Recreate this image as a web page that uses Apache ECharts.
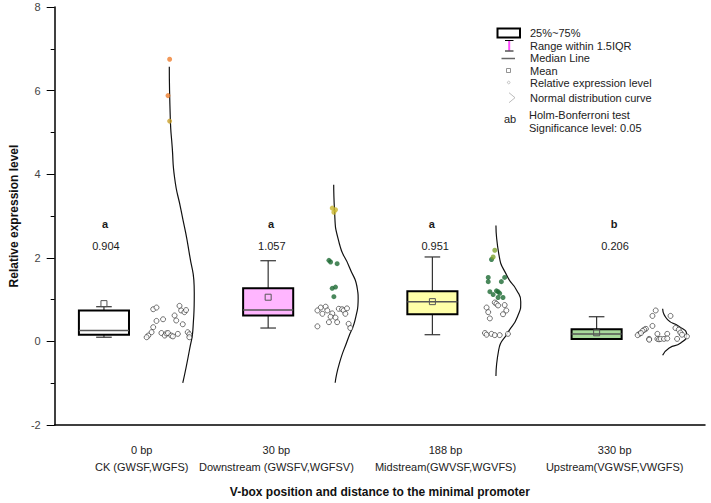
<!DOCTYPE html>
<html>
<head>
<meta charset="utf-8">
<script src="https://cdn.jsdelivr.net/npm/echarts@6/dist/echarts.min.js"></script>
<style>
  html, body { margin: 0; padding: 0; background: #fff; }
  #chart { width: 711px; height: 503px; }
</style>
</head>
<body>
<div id="chart"></div>
<script>
// groups (box centres on the x axis) and their labels
const groupPos = [1, 2, 3, 4]
const distLabels = ['0 bp', '30 bp', '188 bp', '330 bp']
const groupNames = ['CK (GWSF,WGFS)', 'Downstream (GWSFV,WGFSV)', 'Midstream(GWVSF,WGVFS)', 'Upstream(VGWSF,VWGFS)']
const labelPos = [1.23, 2.05, 3.08, 4.11]

// box statistics
const boxMin = [0.10, 0.32, 0.16, 0.05]
const boxQ1 = [0.16, 0.62, 0.65, 0.06]
const boxMedian = [0.26, 0.75, 0.95, 0.18]
const boxQ3 = [0.74, 1.27, 1.20, 0.29]
const boxMax = [0.83, 1.93, 2.02, 0.59]
const means = [0.904, 1.057, 0.951, 0.206]

// Holm-Bonferroni letters
const letters = ['a', 'a', 'a', 'b']
const letterPos = [1.01, 2.02, 3.0, 4.11]

// raw points: [offset from box centre, value]
const ckHollow = [[0.30, 0.77], [0.32, 0.81], [0.46, 0.85], [0.47, 0.74], [0.49, 0.70], [0.50, 0.75], [0.43, 0.62],
  [0.32, 0.49], [0.36, 0.53], [0.44, 0.50], [0.48, 0.41], [0.30, 0.34], [0.29, 0.22], [0.27, 0.14], [0.26, 0.10],
  [0.35, 0.20], [0.37, 0.14], [0.38, 0.19], [0.39, 0.20], [0.41, 0.14], [0.42, 0.12], [0.45, 0.18], [0.51, 0.22],
  [0.52, 0.17], [0.52, 0.10]]
const ckOrange = [[0.40, 6.75], [0.39, 5.88]]
const ckOlive = [[0.40, 5.27]]

const downHollow = [[0.32, 0.81], [0.35, 0.83], [0.30, 0.74], [0.33, 0.66], [0.36, 0.74], [0.39, 0.67], [0.38, 0.59],
  [0.41, 0.57], [0.43, 0.78], [0.45, 0.77], [0.46, 0.74], [0.48, 0.79], [0.47, 0.66], [0.37, 0.46], [0.42, 0.46],
  [0.30, 0.36], [0.49, 0.42], [0.50, 0.32]]
const downGreen = [[0.37, 1.94], [0.38, 1.90], [0.42, 1.86], [0.39, 1.27], [0.41, 1.30], [0.40, 1.07]]
const downYellow = [[0.39, 3.19], [0.41, 3.15], [0.40, 3.09]]

const midHollow = [[0.38, 0.93], [0.39, 0.90], [0.40, 0.86], [0.44, 0.87], [0.33, 0.81], [0.34, 0.70], [0.45, 0.74],
  [0.43, 0.65], [0.35, 0.55], [0.32, 0.20], [0.33, 0.16], [0.36, 0.18], [0.38, 0.15], [0.41, 0.15], [0.46, 0.18]]
const midGreen = [[0.36, 1.96], [0.34, 1.53], [0.44, 1.53], [0.34, 1.43], [0.42, 1.43], [0.39, 1.21], [0.40, 1.19],
  [0.35, 1.19], [0.37, 1.12], [0.41, 1.15], [0.40, 1.05], [0.43, 1.05]]
const midLime = [[0.38, 2.18], [0.37, 2.02]]

const upHollow = [[0.36, 0.74], [0.34, 0.61], [0.45, 0.61], [0.34, 0.37], [0.30, 0.30], [0.29, 0.28], [0.28, 0.25],
  [0.26, 0.18], [0.25, 0.15], [0.27, 0.20], [0.37, 0.18], [0.43, 0.18], [0.48, 0.32], [0.50, 0.28], [0.51, 0.21],
  [0.52, 0.16], [0.55, 0.12], [0.32, 0.06], [0.32, 0.04], [0.37, 0.06], [0.38, 0.05], [0.39, 0.06], [0.41, 0.06],
  [0.43, 0.07], [0.49, 0.06]]

// normal distribution curves: [offset, value]
const ckCurve = [[0.398, 6.57], [0.404, 5.34], [0.416, 4.63], [0.430, 3.92], [0.470, 3.13], [0.520, 2.10],
  [0.550, 1.15], [0.543, 0.36], [0.521, -0.20], [0.480, -0.99]]
const downCurve = [[0.399, 3.75], [0.404, 3.13], [0.434, 2.33], [0.494, 1.78], [0.544, 1.23], [0.548, 1.03],
  [0.534, 0.59], [0.484, 0.04], [0.434, -0.52], [0.408, -0.99]]
const midCurve = [[0.387, 2.77], [0.404, 2.10], [0.458, 1.54], [0.512, 1.23], [0.538, 0.95], [0.518, 0.59],
  [0.458, 0.20], [0.404, -0.20], [0.387, -0.83]]
const upCurve = [[0.402, 0.78], [0.432, 0.52], [0.502, 0.36], [0.548, 0.16], [0.512, -0.04], [0.442, -0.16],
  [0.402, -0.33]]

// styles
const FONT = 'Liberation Sans, Arial, sans-serif'
const boxFill = ['#ffffff', '#ffb6ff', '#ffffa8', '#a8d99c']

const place = (pts, g) => pts.map(p => [groupPos[g] + p[0], p[1]])

const boxData = groupPos.map((g, i) => [g, boxMin[i], boxQ1[i], boxMedian[i], boxQ3[i], boxMax[i], means[i], i])

function renderBox(params, api) {
  const x = api.value(0)
  const pMin = api.coord([x, api.value(1)])
  const pQ1 = api.coord([x, api.value(2)])
  const pMed = api.coord([x, api.value(3)])
  const pQ3 = api.coord([x, api.value(4)])
  const pMax = api.coord([x, api.value(5)])
  const pMean = api.coord([x, api.value(6)])
  const halfW = api.size([0.305, 0])[0] / 2
  const capW = api.size([0.095, 0])[0] / 2
  const cx = pQ1[0]
  const whisker = { stroke: '#333', lineWidth: 1.2 }
  return {
    type: 'group',
    children: [
      { type: 'line', shape: { x1: cx, y1: pQ3[1], x2: cx, y2: pMax[1] }, style: whisker },
      { type: 'line', shape: { x1: cx, y1: pQ1[1], x2: cx, y2: pMin[1] }, style: whisker },
      { type: 'line', shape: { x1: cx - capW, y1: pMax[1], x2: cx + capW, y2: pMax[1] }, style: whisker },
      { type: 'line', shape: { x1: cx - capW, y1: pMin[1], x2: cx + capW, y2: pMin[1] }, style: whisker },
      {
        type: 'rect',
        shape: { x: cx - halfW, y: pQ3[1], width: halfW * 2, height: pQ1[1] - pQ3[1] },
        style: { fill: boxFill[api.value(7)], stroke: '#000', lineWidth: 2 }
      },
      { type: 'line', shape: { x1: cx - halfW, y1: pMed[1], x2: cx + halfW, y2: pMed[1] }, style: { stroke: '#555', lineWidth: 1.5 } },
      { type: 'rect', shape: { x: cx - 3, y: pMean[1] - 3, width: 6, height: 6 }, style: { fill: 'none', stroke: '#555', lineWidth: 1 } }
    ]
  }
}

const hollowStyle = { color: '#fff', borderColor: '#222', borderWidth: 0.8 }
const pointSeries = (data, itemStyle) => ({
  type: 'scatter', data, symbolSize: 5, itemStyle, z: 4, silent: true, clip: false
})
const curveSeries = (pts, g) => ({
  type: 'line', data: place(pts, g), smooth: 0.6, showSymbol: false,
  lineStyle: { color: '#111', width: 1.2 }, z: 3, silent: true
})
const textSeries = (data, fontWeight, fmt) => ({
  type: 'scatter', data, symbolSize: 1, itemStyle: { color: '#fff', opacity: 0 }, silent: true,
  label: {
    show: true, position: [0, 0], align: 'center', verticalAlign: 'middle', formatter: fmt,
    fontFamily: FONT, fontSize: 11, color: '#1a1a1a', fontWeight, textBorderWidth: 0, opacity: 1
  }
})

const legendTexts = ['25%~75%', 'Range within 1.5IQR', 'Median Line', 'Mean', 'Relative expression level',
  'Normal distribution curve', 'Holm-Bonferroni test', 'Significance level: 0.05']
const legendY = [33, 45.5, 58, 70.5, 82.5, 97.5, 115, 127.5]

const legendGraphic = [
  { type: 'rect', shape: { x: 497.5, y: 28.5, width: 22.5, height: 9 }, style: { fill: '#fff', stroke: '#000', lineWidth: 2 } },
  { type: 'line', shape: { x1: 505, y1: 40.5, x2: 513.5, y2: 40.5 }, style: { stroke: '#000', lineWidth: 1 } },
  { type: 'line', shape: { x1: 509.2, y1: 41, x2: 509.2, y2: 50.5 }, style: { stroke: '#ff4dff', lineWidth: 2 } },
  { type: 'line', shape: { x1: 505, y1: 51, x2: 513.5, y2: 51 }, style: { stroke: '#000', lineWidth: 1 } },
  { type: 'line', shape: { x1: 501.5, y1: 58.5, x2: 515, y2: 58.5 }, style: { stroke: '#666', lineWidth: 1.5 } },
  { type: 'rect', shape: { x: 506.5, y: 68.5, width: 4, height: 4 }, style: { fill: 'none', stroke: '#777', lineWidth: 0.8 } },
  { type: 'circle', shape: { cx: 508.7, cy: 82.5, r: 1.3 }, style: { fill: 'none', stroke: '#aaa', lineWidth: 0.7 } },
  { type: 'polyline', shape: { points: [[509, 92.7], [515, 97.7], [509, 102.7]] }, style: { fill: 'none', stroke: '#aaa', lineWidth: 0.8 } },
  { type: 'text', x: 504, y: 118.5, style: { text: 'ab', font: '11px ' + FONT, fill: '#222', verticalAlign: 'middle' } }
].concat(legendTexts.map((t, i) => ({
  type: 'text', x: i >= 6 ? 529 : 530, y: legendY[i],
  style: { text: t, font: '11px ' + FONT, fill: '#222', verticalAlign: 'middle' }
})))

const chart = echarts.init(document.getElementById('chart'), null, { renderer: 'svg' })

chart.setOption({
  animation: false,
  backgroundColor: '#fff',
  textStyle: { fontFamily: FONT },
  grid: { left: 47, right: 6, top: 7, bottom: 75, containLabel: false },
  xAxis: {
    type: 'value',
    min: 0.7,
    max: 4.66,
    axisLine: { onZero: false, lineStyle: { color: '#000', width: 1.5 } },
    axisTick: { show: false },
    splitLine: { show: false },
    axisLabel: {
      customValues: labelPos,
      margin: 16,
      formatter: (v) => {
        const i = labelPos.findIndex(p => Math.abs(p - v) < 1e-6)
        return i < 0 ? '' : `{a|${distLabels[i]}}\n{b|${groupNames[i]}}`
      },
      rich: {
        a: { fontFamily: FONT, fontSize: 11, color: '#222', lineHeight: 17 },
        b: { fontFamily: FONT, fontSize: 11, color: '#222', lineHeight: 17 }
      }
    },
    name: 'V-box position and distance to the minimal promoter',
    nameLocation: 'middle',
    nameGap: 61,
    nameTextStyle: { fontFamily: FONT, fontSize: 12, fontWeight: 'bold', color: '#111' }
  },
  yAxis: {
    type: 'value',
    min: -2,
    max: 8,
    interval: 2,
    axisLine: { show: true, lineStyle: { color: '#000', width: 1.5 } },
    axisTick: { show: true, length: 8, lineStyle: { color: '#000', width: 1 } },
    minorTick: { show: true, splitNumber: 2, length: 4, lineStyle: { color: '#000', width: 1 } },
    splitLine: { show: false },
    axisLabel: { fontFamily: FONT, fontSize: 11, color: '#444', margin: 14 },
    name: 'Relative expression level',
    nameLocation: 'middle',
    nameGap: 30,
    nameTextStyle: { fontFamily: FONT, fontSize: 12, fontWeight: 'bold', color: '#111' }
  },
  graphic: legendGraphic,
  series: [
    { type: 'custom', renderItem: renderBox, data: boxData, z: 2, silent: true },
    curveSeries(ckCurve, 0),
    curveSeries(downCurve, 1),
    curveSeries(midCurve, 2),
    curveSeries(upCurve, 3),
    pointSeries(place(ckHollow, 0), hollowStyle),
    pointSeries(place(ckOrange, 0), { color: '#ef7f30' }),
    pointSeries(place(ckOlive, 0), { color: '#c9a02a' }),
    pointSeries(place(downHollow, 1), hollowStyle),
    pointSeries(place(downGreen, 1), { color: '#1d6a33' }),
    pointSeries(place(downYellow, 1), { color: '#c8b52e' }),
    pointSeries(place(midHollow, 2), hollowStyle),
    pointSeries(place(midGreen, 2), { color: '#1d6a33' }),
    pointSeries(place(midLime, 2), { color: '#7fa22e' }),
    pointSeries(place(upHollow, 3), hollowStyle),
    textSeries(letterPos.map(p => [p, 2.80]), 'bold', (p) => letters[p.dataIndex]),
    textSeries(letterPos.map((p, i) => [p + (i === 2 ? 0.02 : 0.005), 2.26]), 'normal', (p) => String(means[p.dataIndex]))
  ]
})
</script>
</body>
</html>
